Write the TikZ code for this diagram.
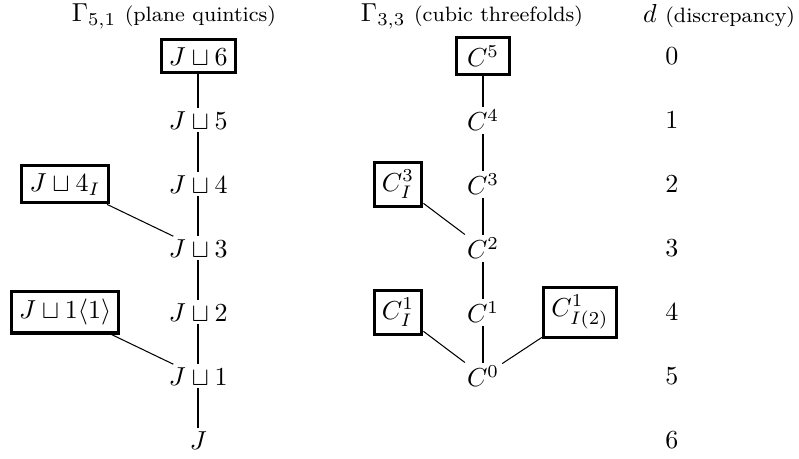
\documentclass[tikz,border=0pt]{standalone}
\usepackage{amsmath}
\usepackage{amssymb}
\usetikzlibrary{positioning}
\tikzset{
  boxed/.style={draw, very thick, inner sep=3pt},
  stem/.style={thick},
  twig/.style={thin},
}

\begin{document}
\begin{tikzpicture}[node distance=0.865cm, every node/.style={inner sep=1pt}]
		\useasboundingbox (0,0) rectangle (10.80,-6.20);

		% titles %
		\node (t1) at (2.35,-0.22) {$\Gamma_{5,1}$ {\footnotesize (plane quintics)}};
		\node (t2) at (6.38,-0.22) {$\Gamma_{3,3}$ {\footnotesize (cubic threefolds)}};
		\node (t3) at (9.72,-0.22) {$d$ {\footnotesize (discrepancy)}};

		% nodes - for plane quintics %
		\node[boxed] (j6) at (2.68,-0.76) {$J \sqcup 6$};
		\node[below of = j6] (j5) {$J \sqcup 5$};
		\node[below of = j5] (j4) {$J \sqcup 4$};
		\node[below of = j4] (j3) {$J \sqcup 3$};
		\node[below of = j3] (j2) {$J \sqcup 2$};
		\node[below of = j2] (j1) {$J \sqcup 1$};
		\node[below of = j1] (j0) {$J$};
		\node[boxed, left of = j4, node distance=1.80cm] (j4i) {$J \sqcup 4_I$};
		\node[boxed, left of = j2, node distance=1.80cm] (j1a) {$J \sqcup 1\langle 1\rangle$};

		% nodes - for cubic threefolds %
		\node[boxed, inner xsep=4pt] (c5) at (6.53,-0.76) {$C^5$};
		\node[below of = c5] (c4) {$C^4$};
		\node[below of = c4] (c3) {$C^3$};
		\node[below of = c3] (c2) {$C^2$};
		\node[below of = c2] (c1) {$C^1$};
		\node[below of = c1] (c0) {$C^0$};
		\node[boxed, left of = c3, node distance=1.15cm] (c3i) {$C^3_I$};
		\node[boxed, left of = c1, node distance=1.15cm] (c1i) {$C^1_I$};
		\node[boxed, right of = c1, node distance=1.31cm] (c1ii) {$C^1_{I(2)}$};

		% nodes - discrepancy %
		\node (d0) at (9.08,-0.76) {$0$};
		\node[below of = d0] (d1) {$1$};
		\node[below of = d1] (d2) {$2$};
		\node[below of = d2] (d3) {$3$};
		\node[below of = d3] (d4) {$4$};
		\node[below of = d4] (d5) {$5$};
		\node[below of = d5] (d6) {$6$};

		% edges %
		\draw[stem] (j6) -- (j5);
		\draw[stem] (j5) -- (j4);
		\draw[stem] (j4) -- (j3);
		\draw[stem] (j3) -- (j2);
		\draw[stem] (j2) -- (j1);
		\draw[stem] (j1) -- (j0);
		\draw[twig] (j4i) -- (j3);
		\draw[twig] (j1a) -- (j1);

		\draw[stem] (c5) -- (c4);
		\draw[stem] (c4) -- (c3);
		\draw[stem] (c3) -- (c2);
		\draw[stem] (c2) -- (c1);
		\draw[stem] (c1) -- (c0);
		\draw[twig] (c3i) -- (c2);
		\draw[twig] (c1i) -- (c0);
		\draw[twig] (c1ii) -- (c0);
\end{tikzpicture}
\end{document}
